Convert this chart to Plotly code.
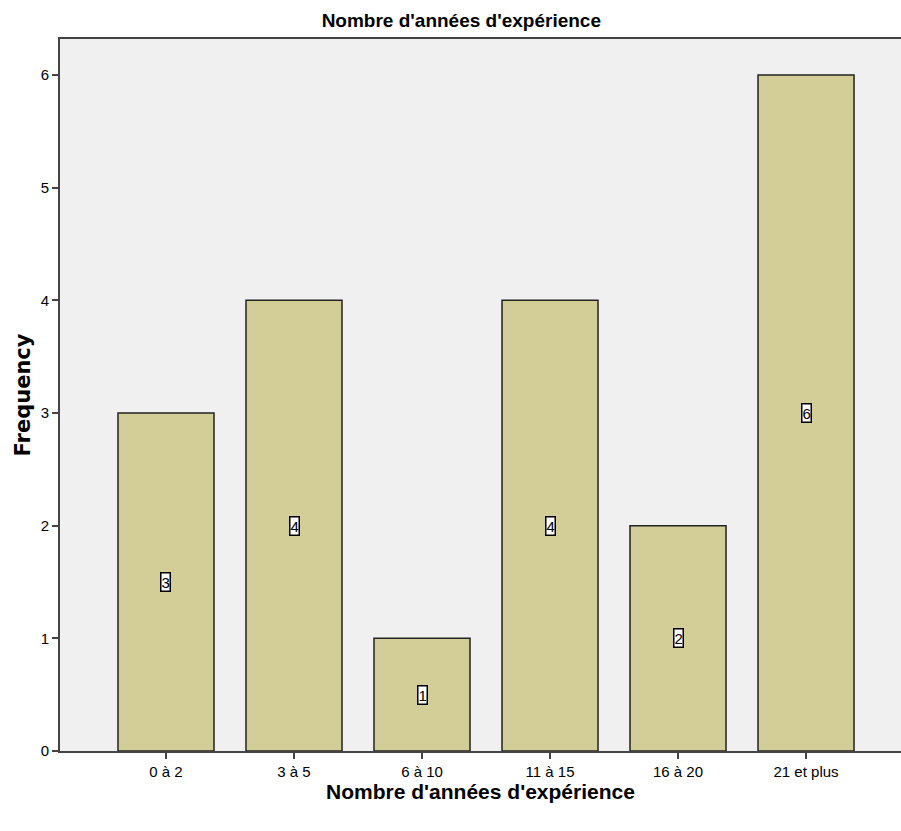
import plotly.graph_objects as go

categories = ["0 à 2", "3 à 5", "6 à 10", "11 à 15", "16 à 20", "21 et plus"]
frequencies = [3, 4, 1, 4, 2, 6]
y_ticks = [0, 1, 2, 3, 4, 5, 6]

title_text = "Nombre d'années d'expérience"
x_title = "Nombre d'années d'expérience"
y_title = "Frequency"

FONT = "Liberation Sans, Arial, sans-serif"
WIDE_BOLD = "DejaVu Sans, Liberation Sans, sans-serif"
AXIS_COLOR = "#444444"

xpos = list(range(len(categories)))

fig = go.Figure()
fig.add_trace(go.Bar(
    x=xpos,
    y=frequencies,
    width=0.75,
    marker=dict(color="#D3CE97", line=dict(color="#222222", width=1.5)),
    hoverinfo="skip",
))

# value labels in boxed white tags at the middle of each bar
for xi, v in zip(xpos, frequencies):
    fig.add_annotation(
        x=xi, y=v / 2, text=str(v), showarrow=False,
        font=dict(family=FONT, size=15, color="#000000"),
        bgcolor="#FFFFFF", bordercolor="#000000", borderwidth=1.5, borderpad=0,
        xref="x", yref="y",
    )

fig.update_layout(
    width=901, height=831,
    margin=dict(l=60, r=0, t=39, b=80),
    paper_bgcolor="#FFFFFF",
    plot_bgcolor="#F0F0F0",
    showlegend=False,
    bargap=0.25,
    title=dict(text=f"<b>{title_text}</b>", x=0.512, xanchor="center",
               y=1 - 20 / 831, yanchor="middle",
               font=dict(family=FONT, size=19, color="#000000")),
    font=dict(family=FONT, color="#000000"),
)

fig.update_xaxes(
    range=[-0.828, 5.742],
    tickmode="array", tickvals=xpos, ticktext=categories,
    ticks="outside", ticklen=6, tickcolor=AXIS_COLOR, tickwidth=1.5,
    showline=True, linecolor=AXIS_COLOR, linewidth=2, mirror=True,
    showgrid=False, zeroline=False,
    tickfont=dict(family=FONT, size=15, color="#000000"),
    title=dict(text=f"<b>{x_title}</b>", standoff=3,
               font=dict(family=FONT, size=21, color="#000000")),
)

fig.update_yaxes(
    range=[0, 6.32],
    tickmode="array", tickvals=y_ticks,
    ticks="outside", ticklen=6, tickcolor=AXIS_COLOR, tickwidth=1.5,
    showline=True, linecolor=AXIS_COLOR, linewidth=2,
    showgrid=False, zeroline=False,
    tickfont=dict(family=FONT, size=15, color="#000000"),
    title=dict(text=f"<b>{y_title}</b>", standoff=4,
               font=dict(family=WIDE_BOLD, size=21, color="#000000")),
)

fig.write_html("out.html")
